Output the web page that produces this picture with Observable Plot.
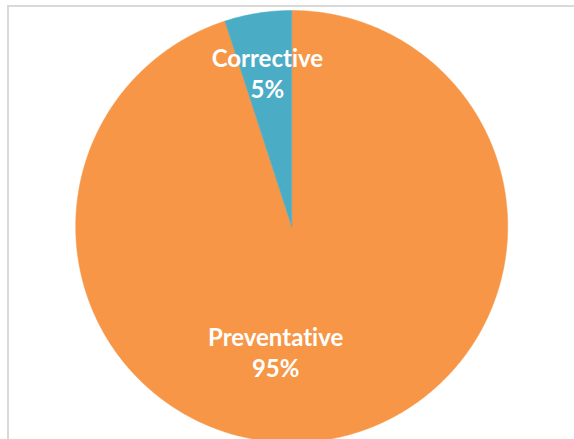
<!DOCTYPE html>
<html>
<head>
<meta charset="utf-8">
<script src="https://cdn.jsdelivr.net/npm/d3@7"></script>
<script src="https://cdn.jsdelivr.net/npm/@observablehq/plot@0.6"></script>
<style>
  html, body { margin: 0; padding: 0; background: #fff; overflow: hidden; }
  #wrap { position: relative; width: 574px; height: 439px; overflow: hidden; }
  #border { position: absolute; left: 7px; top: 5px; width: 600px; height: 500px;
            border-left: 2px solid #d9d9d9; border-top: 2px solid #d9d9d9; pointer-events: none; }
  svg text { font-variant-ligatures: none; font-feature-settings: "liga" 0; }
</style>
</head>
<body>
<div id="wrap"><div id="border"></div></div>
<script>
const categories = ["Preventative", "Corrective"];
const values = [95, 5];
const percentLabels = ["95%", "5%"];
const colors = ["#F79646", "#4BACC6"];

const W = 574, H = 439;
const cx = 291.2, cy = 226, R = 216;

const data = categories.map((c, i) => ({category: c, value: values[i], pct: percentLabels[i]}));

const pie = d3.pie().sort(null).value(d => d.value).startAngle(0).endAngle(2 * Math.PI);
const arcs = pie(data);

// Outline points (unit coordinates, y down) for each slice
const pts = [];
arcs.forEach(a => {
  const n = Math.max(4, Math.ceil((a.endAngle - a.startAngle) / (Math.PI / 360)));
  pts.push({category: a.data.category, u: 0, v: 0});
  for (let k = 0; k <= n; k++) {
    const t = a.startAngle + (a.endAngle - a.startAngle) * k / n;
    pts.push({category: a.data.category, u: Math.sin(t), v: -Math.cos(t)});
  }
  pts.push({category: a.data.category, u: 0, v: 0});
});

// Label placement: radius fraction and angular nudge (degrees), mimicking Excel "best fit"
const labelRadius = [0.585, 0.72];
const labelNudge = [16.3, 0];
const labels = arcs.map((a, i) => {
  const mid = (a.startAngle + a.endAngle) / 2 + labelNudge[i] * Math.PI / 180;
  return {category: a.data.category, pct: a.data.pct,
          u: Math.sin(mid) * labelRadius[i], v: -Math.cos(mid) * labelRadius[i]};
});

const font = "Lato, 'Open Sans', sans-serif";
const plot = Plot.plot({
  width: W,
  height: H,
  margin: 0,
  style: {background: "transparent", overflow: "hidden"},
  x: {domain: [-1, 1], range: [cx - R, cx + R], axis: null},
  y: {domain: [-1, 1], range: [cy - R, cy + R], axis: null},
  color: {domain: categories, range: colors},
  marks: [
    Plot.line(pts, {x: "u", y: "v", z: "category", fill: "category", stroke: "category",
                    strokeWidth: 0.5, curve: "linear"}),
    Plot.text(labels, {x: "u", y: "v", text: d => d.category, dy: -14,
                       fill: "white", fontSize: 24, fontWeight: "bold", fontFamily: font}),
    Plot.text(labels, {x: "u", y: "v", text: d => d.pct, dy: 17,
                       fill: "white", fontSize: 24, fontWeight: "bold", fontFamily: font})
  ]
});
plot.style.position = "absolute";
plot.style.left = "0px";
plot.style.top = "0px";
document.getElementById("wrap").insertBefore(plot, document.getElementById("border"));
</script>
</body>
</html>
